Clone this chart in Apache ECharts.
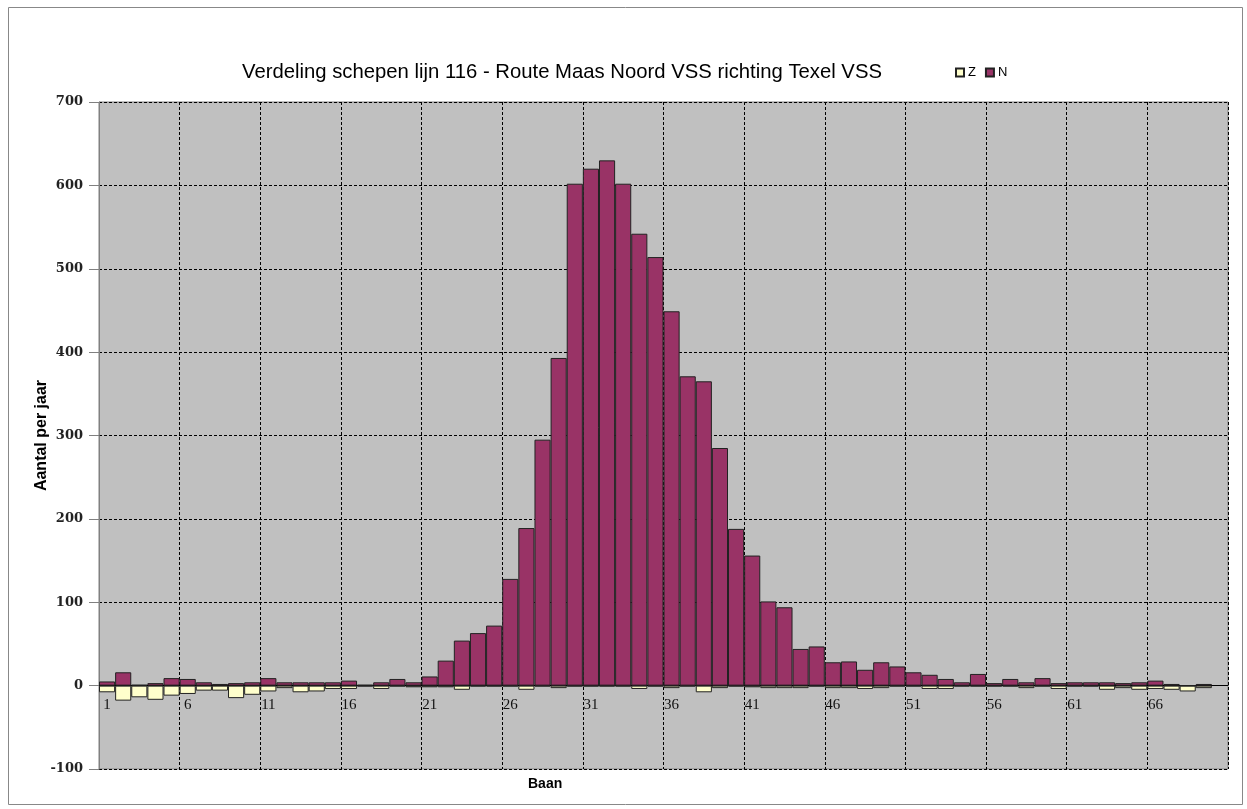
<!DOCTYPE html>
<html>
<head>
<meta charset="utf-8">
<script src="https://cdn.jsdelivr.net/npm/echarts@6/dist/echarts.min.js"></script>
<style>
html,body{margin:0;padding:0;background:#fff;}
#chart{width:1247px;height:809px;}
</style>
</head>
<body>
<div id="chart"></div>
<script>
var titleText = 'Verdeling schepen lijn 116 - Route Maas Noord VSS richting Texel VSS';
var xTitle = 'Baan';
var yTitle = 'Aantal per jaar';
var categories = [];
for (var i = 1; i <= 70; i++) categories.push(String(i));
var seriesZ = [-8,-18,-14,-17,-12,-10,-6,-6,-15,-11,-7,-3,-8,-7,-4,-4,-1,-4,-1,-2,
  -2,-2,-5,-1,-1,-1,-5,-1,-3,-1,-1,-1,-1,-4,-1,-3,-1,-8,-3,-1,
  -2,-3,-3,-3,-1,-3,-3,-4,-3,-1,-1,-4,-4,-1,-1,-1,-1,-3,-1,-4,
  -1,-1,-5,-3,-5,-4,-5,-7,-3,null];
var seriesN = [5,16,1,3,9,8,4,2,3,4,9,4,4,4,4,6,1,4,8,4,
  11,30,54,63,72,128,189,295,393,602,620,630,602,542,514,449,371,365,285,188,
  156,101,94,44,47,28,29,19,28,23,16,13,8,4,14,3,8,4,9,3,
  4,4,4,3,4,6,2,0,2,null];

var yMin = -100, yMax = 700;
var gridTop = 102, gridBottom = 40, chartH = 809;
var plotH = chartH - gridTop - gridBottom;
var zeroOffset = -plotH * (0 - yMin) / (yMax - yMin);

var chart = echarts.init(document.getElementById('chart'), null, {renderer:'canvas'});
chart.setOption({
  animation:false,
  backgroundColor:'#ffffff',
  title:{
    text:titleText, left:237, top:57,
    textStyle:{fontFamily:'Liberation Sans', fontSize:20.3, fontWeight:'normal', color:'#000'}
  },
  legend:{
    data:['Z','N'], left:950, top:61, itemWidth:8, itemHeight:8, itemGap:9,
    icon:'rect',
    textStyle:{fontFamily:'Liberation Sans', fontSize:13, color:'#000', padding:[0,0,0,-1]}
  },
  graphic:[
    {type:'rect', left:6, top:5, shape:{width:1234, height:797}, style:{fill:'none', stroke:'#888', lineWidth:1}, silent:true, z:-1},
    {type:'text', left:528, top:777, style:{text:xTitle, font:'bold 14px "Liberation Sans"', fill:'#000'}}
  ],
  grid:{left:99, right:19, top:gridTop, bottom:gridBottom, show:true, backgroundColor:'#C0C0C0', borderColor:'#808080', borderWidth:1},
  xAxis:{
    type:'category', data:categories, boundaryGap:true, offset:zeroOffset,
    axisLine:{onZero:false, lineStyle:{color:'#000', width:1}},
    axisTick:{show:false},
    axisLabel:{interval:4, fontFamily:'Liberation Serif', fontSize:15, color:'#111', margin:12},
    splitLine:{show:true, interval:4, lineStyle:{color:'#000', type:[3,2], width:1}}
  },
  yAxis:{
    type:'value', min:yMin, max:yMax, interval:100,
    name:yTitle, nameLocation:'middle', nameGap:49, nameMoveOverlap:false,
    nameTextStyle:{fontFamily:'Liberation Sans', fontSize:16, fontWeight:'bold', color:'#000'},
    axisLine:{show:true, lineStyle:{color:'#808080'}},
    axisTick:{show:true, length:10, lineStyle:{color:'#808080'}},
    axisLabel:{fontFamily:'DejaVu Serif', fontSize:13, fontWeight:'bold', color:'#222', margin:16},
    splitLine:{show:true, lineStyle:{color:'#000', type:[3,2], width:1}}
  },
  series:[
    {name:'Z', type:'bar', data:seriesZ, barCategoryGap:0, barGap:'-100%',
      itemStyle:{color:'#FFFFCC', borderColor:'#222', borderWidth:1}},
    {name:'N', type:'bar', data:seriesN, barCategoryGap:0, barGap:'-100%',
      itemStyle:{color:'#993366', borderColor:'#222', borderWidth:1}}
  ]
});
</script>
</body>
</html>
